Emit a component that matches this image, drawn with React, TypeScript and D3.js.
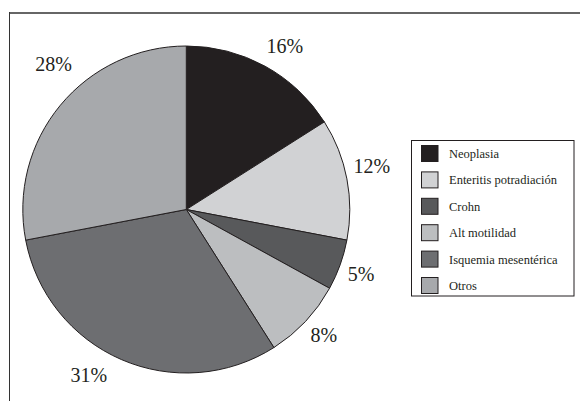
import React from "react";
import * as d3 from "d3";

const categories = ["Neoplasia", "Enteritis potradiación", "Crohn", "Alt motilidad", "Isquemia mesentérica", "Otros"];
const values = [16, 12, 5, 8, 31, 28];
const labels = ["16%", "12%", "5%", "8%", "31%", "28%"];
const colors = ["#231f20", "#d1d2d4", "#58595b", "#bcbec0", "#6d6e71", "#a7a9ac"];
// label placement tweaks (layout only)
const labelNudge: [number, number][] = [[7, 3], [-1, -7.6], [-4, 0], [-1, -5], [-22, -9], [13.6, -24]];

const W = 580, H = 401;
const cx = 186.3, cy = 209.5, R = 163.5;

export default function App() {
  const pie = d3.pie<number>().sort(null).value((d) => d);
  const arcs = pie(values);
  const arc = d3.arc<d3.PieArcDatum<number>>().innerRadius(0).outerRadius(R);
  const labelArc = d3.arc<d3.PieArcDatum<number>>().innerRadius(190).outerRadius(190);
  const font = "'Liberation Serif', 'Times New Roman', serif";
  const rowY = d3.scaleLinear().domain([0, 5]).range([153.5, 285.5]);
  return (
    <svg width={W} height={H} style={{ position: "absolute", left: 0, top: 0, background: "#fff" }}>
      <line x1={9} y1={13} x2={580} y2={13} stroke="#666" strokeWidth={2} />
      <line x1={9.5} y1={12} x2={9.5} y2={401} stroke="#333" strokeWidth={1} />
      <g transform={`translate(${cx},${cy})`}>
        {arcs.map((a, i) => (
          <path key={i} d={arc(a) || ""} fill={colors[i]} stroke="#231f20" strokeWidth={1} />
        ))}
        {arcs.map((a, i) => {
          const [x, y] = labelArc.centroid(a);
          return (
            <text key={i} x={x + labelNudge[i][0]} y={y + labelNudge[i][1] + 7} textAnchor="middle"
              fontFamily={font} fontSize={20} fill="#231f20">{labels[i]}</text>
          );
        })}
      </g>
      <rect x={411.5} y={140.5} width={162.5} height={155.5} fill="#fff" stroke="#231f20" strokeWidth={1} />
      {categories.map((c, i) => (
        <g key={c}>
          <rect x={421.5} y={rowY(i) - 8} width={16.5} height={16} fill={colors[i]} stroke="#231f20" strokeWidth={1} />
          <text x={449} y={rowY(i) + 4.5} fontFamily={font} fontSize={12.5} fill="#231f20">{c}</text>
        </g>
      ))}
    </svg>
  );
}
